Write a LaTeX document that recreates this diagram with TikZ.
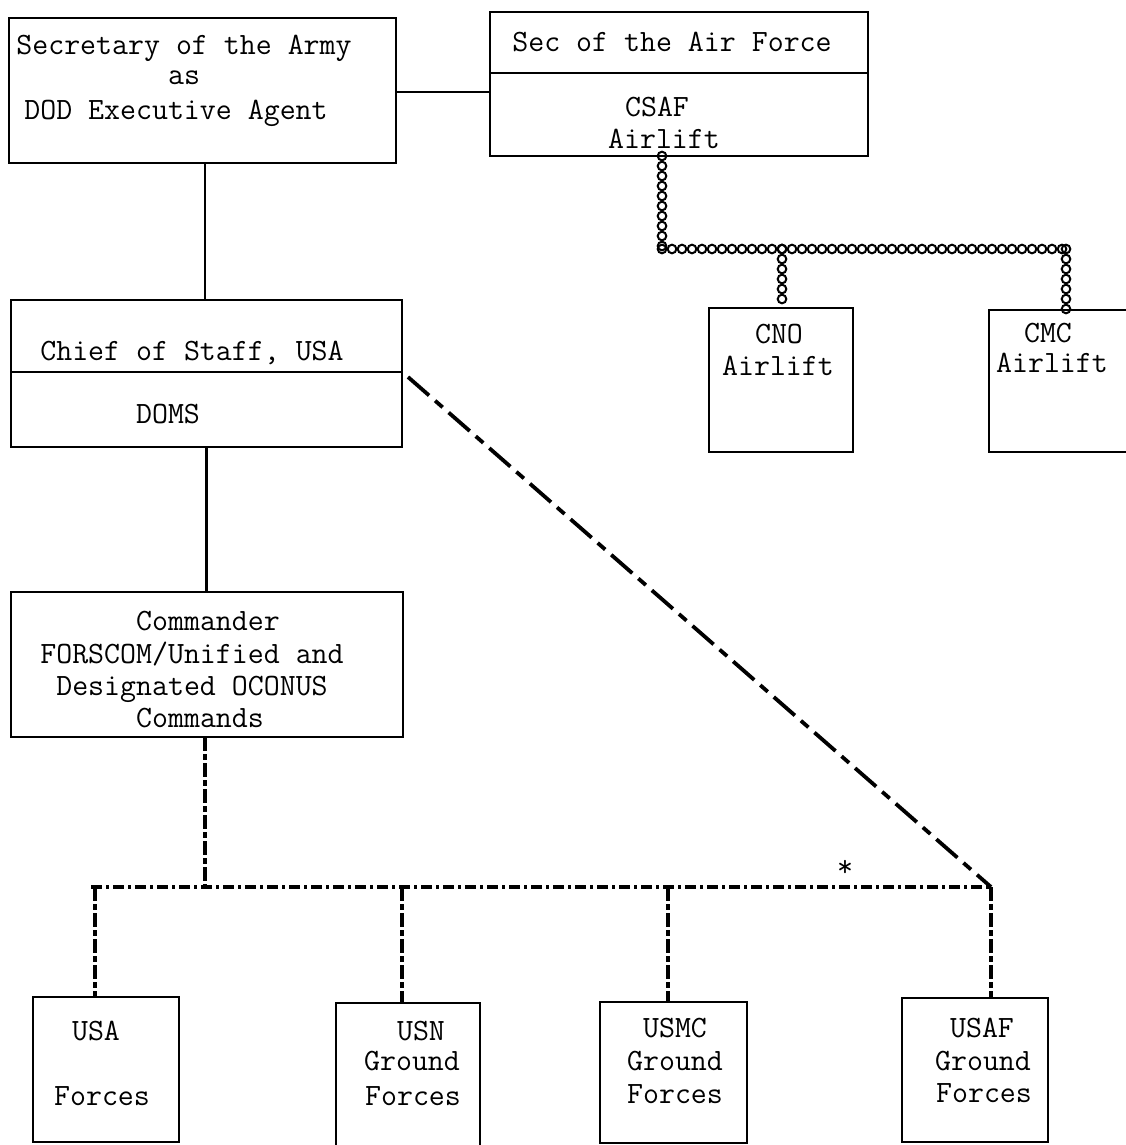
\documentclass[tikz,border=0pt]{standalone}
\usepackage{fontspec}
\usetikzlibrary{decorations.markings,calc}
\begin{document}
\begin{tikzpicture}[x=1pt,y=-1pt,
  box/.style={draw, line width=2.3pt, rectangle, inner sep=0pt, outer sep=0pt},
  lbl/.style={font=\fontsize{31}{33}\selectfont\ttfamily, inner sep=0pt, anchor=base},
  solidline/.style={line width=2.3pt},
  vdsh/.style={line width=3.4pt, dash pattern=on 14pt off 3pt on 6pt off 3pt},
  hdsh/.style={line width=3.6pt, dash pattern=on 11pt off 4pt on 3pt off 4pt},
  diag/.style={line width=3.8pt, dash pattern=on 28pt off 8pt on 10pt off 8pt},
  chain/.style={decoration={markings, mark=between positions 0 and 1 step 10pt with {\draw[line width=2pt, solid] (0,0) ellipse [x radius=4.3pt, y radius=4.3pt];}}, postaction={decorate}}
]
\fill[white] (0,0) rectangle (1126,1145);
\useasboundingbox (0,0) rectangle (1126,1145);

% boxes
\node[box, minimum width=387pt, minimum height=145pt] (sec) at (202.5,90.5) {};
\node[box, minimum width=378pt, minimum height=144pt] (saf) at (679,84) {};
\node[box, minimum width=391pt, minimum height=147pt] (cos) at (206.5,373.5) {};
\node[box, minimum width=392pt, minimum height=145pt] (cmd) at (207,664.5) {};
\node[box, minimum width=144pt, minimum height=144pt] (cno) at (781,380) {};
\node[box, minimum width=146pt, minimum height=142pt] (cmc) at (1062,381) {};
\node[box, minimum width=146pt, minimum height=145pt] (usa) at (106,1069.5) {};
\node[box, minimum width=144pt, minimum height=143pt] (usn) at (408,1074.5) {};
\node[box, minimum width=147pt, minimum height=141pt] (usmc) at (673.5,1072.5) {};
\node[box, minimum width=146pt, minimum height=144pt] (usaf) at (975,1070) {};

% dividers
\coordinate (dv1) at (0,73);
\coordinate (dv2) at (0,372);
\draw[solidline] (saf.west |- dv1) -- (saf.east |- dv1);
\draw[solidline] (cos.west |- dv2) -- (cos.east |- dv2);

% texts
\node[lbl] (t1) at (184,55) {Secretary of the Army};
\node[lbl] (t2) at (184,85) {as};
\node[lbl] (t3) at (176,120) {DOD Executive Agent};
\node[lbl] (t4) at (672,52) {Sec of the Air Force};
\node[lbl] (t5) at (657,117) {CSAF};
\node[lbl] (t6) at (664,148) {Airlift};
\node[lbl] (t7) at (192,360) {Chief of Staff, USA};
\node[lbl] (t8) at (168,423) {DOMS};
\node[lbl] (t9) at (208,630) {Commander};
\node[lbl] (t10) at (192,663) {FORSCOM/Unified and};
\node[lbl] (t11) at (192,695) {Designated OCONUS};
\node[lbl] (t12) at (200,727) {Commands};
\node[lbl] (t13) at (779,343) {CNO};
\node[lbl] (t14) at (778,375) {Airlift};
\node[lbl] (t15) at (1048,342) {CMC};
\node[lbl] (t16) at (1052,372) {Airlift};
\node[lbl] (t17) at (96,1040) {USA};
\node[lbl] (t18) at (102,1105) {Forces};
\node[lbl] (t19) at (421,1040) {USN};
\node[lbl] (t20) at (412,1070) {Ground};
\node[lbl] (t21) at (413,1105) {Forces};
\node[lbl] (t22) at (675,1037) {USMC};
\node[lbl] (t23) at (675,1070) {Ground};
\node[lbl] (t24) at (675,1103) {Forces};
\node[lbl] (t25) at (982,1037) {USAF};
\node[lbl] (t26) at (983,1070) {Ground};
\node[lbl] (t27) at (984,1102) {Forces};
\node[lbl, anchor=center] (star) at (845,868) {*};

% solid connectors
\draw[solidline] ([yshift=-1.5pt]sec.east) -- ([yshift=-1.5pt]sec.east -| saf.west);
\draw[solidline] ([xshift=2.5pt]sec.south) -- ([xshift=2.5pt]sec.south |- cos.north);
\draw[solidline] (cos.south) -- (cos.south |- cmd.north);

% dashed connectors
\coordinate (hL) at (91,887);
\coordinate (hR) at (991,887);
\coordinate (dA) at (95,887);
\coordinate (dN) at (402,887);
\coordinate (dM) at (668,887);
\draw[hdsh] (hL) -- (hR);
\draw[vdsh] ([xshift=-2pt]cmd.south) -- ([xshift=-2pt]cmd.south |- hL);
\draw[vdsh] (dA) -- (dA |- usa.north);
\draw[vdsh] (dN) -- (dN |- usn.north);
\draw[vdsh] (dM) -- (dM |- usmc.north);
\draw[vdsh] (hR) -- (hR |- usaf.north);
\draw[diag] ([xshift=6pt,yshift=-3.5pt]cos.east) -- (hR);

% chain connectors
\coordinate (cA) at (662,249);
\coordinate (cB) at (1066,249);
\coordinate (cN) at (782,249);
\path[chain] (saf.south -| cA) -- (cA);
\path[chain] (cA) -- (cB);
\path[chain] (cB) -- (cB |- cmc.north);
\path[chain] (cN) -- (cN |- cno.north);
\end{tikzpicture}
\end{document}
